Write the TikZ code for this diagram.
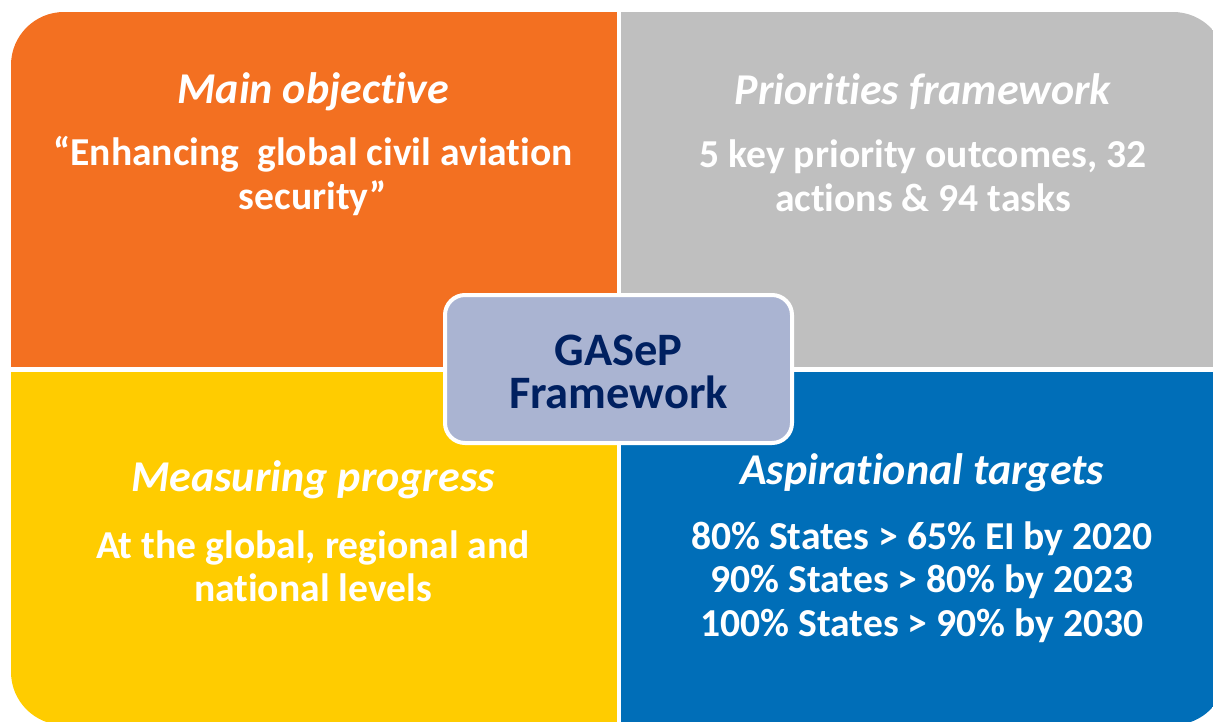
\documentclass[tikz,border=0pt]{standalone}
\usepackage{fontspec}
\setmainfont{Carlito}[Ligatures={TeX,NoCommon}]
\definecolor{qorange}{HTML}{F37021}
\definecolor{qgray}{HTML}{BFBFBF}
\definecolor{qyellow}{HTML}{FFCC00}
\definecolor{qblue}{HTML}{006EB8}
\definecolor{cfill}{HTML}{AAB4D2}
\definecolor{navy}{HTML}{002060}
\tikzset{
  head/.style={text=white, font=\fontsize{44}{48}\selectfont\bfseries\itshape, align=center, inner sep=0pt},
  body/.style={text=white, font=\fontsize{39.6}{43.5}\selectfont\bfseries, align=center, inner sep=0pt},
  centerbox/.style={draw=white, line width=4pt, fill=cfill, rounded corners=20pt, minimum width=347pt, minimum height=148pt, text=navy, font=\fontsize{46.5}{43.5}\selectfont\bfseries, align=center}
}
\begin{document}
\begin{tikzpicture}[x=1pt,y=-1pt]
\useasboundingbox (0,0) rectangle (1213,722);
\begin{scope}
\clip (0,0) rectangle (1213,722);
\clip[rounded corners=53pt] (11,12) rectangle (1226,725);
\fill[qorange] (11,12) rectangle (617,367);
\fill[qgray] (621,12) rectangle (1226,367);
\fill[qyellow] (11,372) rectangle (617,725);
\fill[qblue] (621,372) rectangle (1226,725);
\end{scope}
\node[head] (tlh) at (313,92) {Main objective};
\node[body] (tlb) at (313,176) {“Enhancing\ \ global civil aviation\\security”};
\node[head] (trh) at (923,92) {Priorities framework};
\node[body] (trb) at (923,176) {5 key priority outcomes, 32\\actions \& 94 tasks};
\node[head] (blh) at (313,480) {Measuring progress};
\node[body] (blb) at (313,566) {At the global, regional and\\national levels};
\node[head] (brh) at (922,473) {Aspirational targets};
\node[body] (brb) at (922,582) {80\% States > 65\% EI by 2020\\90\% States > 80\% by 2023\\100\% States > 90\% by 2030};
\node[centerbox] (ctr) at (618.5,369) {};
\node[text=navy, font=\fontsize{46.5}{43.5}\selectfont\bfseries, align=center, inner sep=0pt] (ctrtext) at (618.5,372) {GASeP\\Framework};
\end{tikzpicture}
\end{document}
